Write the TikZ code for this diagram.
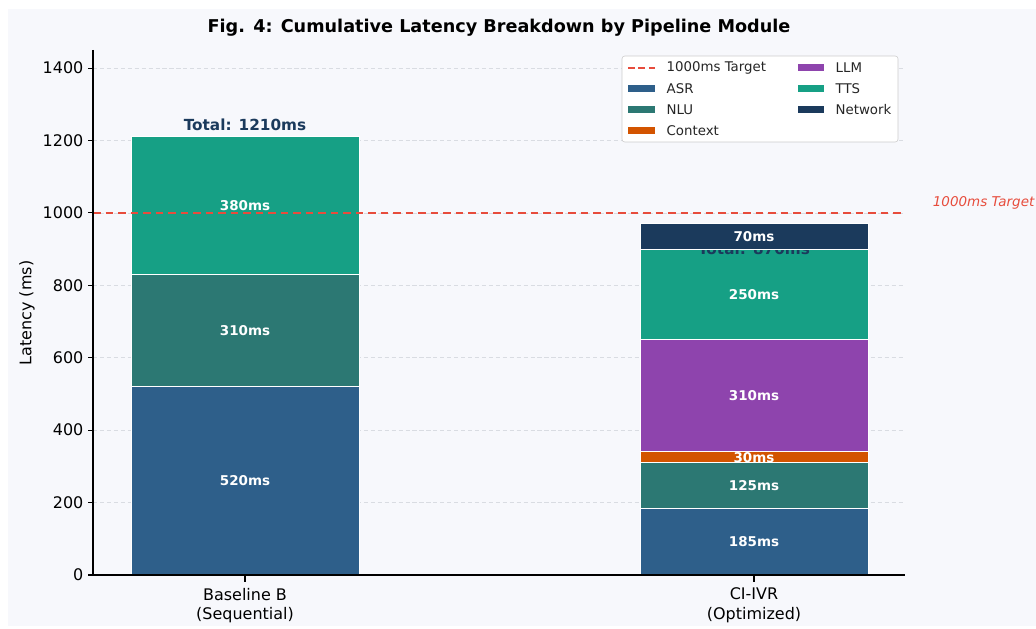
\documentclass[tikz,border=0pt]{standalone}
\usepackage{fontspec}
\setmainfont{DejaVu Sans}
\usetikzlibrary{positioning}
\definecolor{asrc}{HTML}{2E5F8A}
\definecolor{nluc}{HTML}{2C7873}
\definecolor{ctxc}{HTML}{D35400}
\definecolor{llmc}{HTML}{8E44AD}
\definecolor{ttsc}{HTML}{16A085}
\definecolor{netc}{HTML}{1B3A5C}
\definecolor{targetc}{HTML}{E74C3C}
\definecolor{panelc}{HTML}{F7F8FC}
\definecolor{gridc}{HTML}{D9DCE2}
\begin{document}
\begin{tikzpicture}[x=0.72pt, y=0.72pt,
                   seg/.style={draw=white, line width=0.6pt},
                   val/.style={text=white, font=\bfseries\fontsize{9.7}{11}\selectfont},
                   ticklbl/.style={font=\fontsize{11.5}{14}\selectfont},
                   legtxt/.style={anchor=west, inner sep=1pt, font=\fontsize{9.6}{11}\selectfont, text=black!85},
                   total/.style={text=netc, font=\bfseries\fontsize{11}{13}\selectfont},
                   target/.style={targetc, line width=1.4pt, dash pattern=on 5.5pt off 3.5pt}]
\useasboundingbox (0,0) rectangle (1036,628);
\fill[panelc] (8,2) rectangle (1036,619);

\node[font=\bfseries\fontsize{12.7}{15}\selectfont] (title) at (499,600)
  {Fig. 4: Cumulative Latency Breakdown by Pipeline Module};
\node[ticklbl, rotate=90] (ylabel) at (27,315) {Latency (ms)};

%% data part: x in px, y in ms
\begin{scope}[shift={(0,53)}, y=0.2607pt]
\foreach \v in {200,400,...,1400}
  \draw[gridc, line width=0.5pt, dash pattern=on 3pt off 2pt] (93,\v) -- (905,\v);

% Baseline B
\fill[asrc, seg] (131,0) rectangle (359,520);
\fill[nluc, seg] (131,520) rectangle (359,830);
\fill[ttsc, seg] (131,830) rectangle (359,1210);
\node[val] (b-asr) at (245,260) {520ms};
\node[val] (b-nlu) at (245,675) {310ms};
\node[val] (b-tts) at (245,1020) {380ms};
\node[total] (b-total) at (245,1243) {Total: 1210ms};

% CI-IVR
\fill[asrc, seg] (640,0) rectangle (868,185);
\fill[nluc, seg] (640,185) rectangle (868,310);
\fill[ctxc, seg] (640,310) rectangle (868,340);
\fill[llmc, seg] (640,340) rectangle (868,650);
\fill[ttsc, seg] (640,650) rectangle (868,900);
\node[total, anchor=base] (c-total) at (754,886) {Total: 870ms};
\fill[netc, seg] (640,900) rectangle (868,970);
\node[val] (c-asr) at (754,92.5) {185ms};
\node[val] (c-nlu) at (754,247.5) {125ms};
\node[val] (c-ctx) at (754,325) {30ms};
\node[val] (c-llm) at (754,495) {310ms};
\node[val] (c-tts) at (754,775) {250ms};
\node[val] (c-net) at (754,935) {70ms};

% target line
\coordinate (t-l) at (93,1000);
\coordinate (t-r) at (905,1000);
\draw[target] (t-l) -- (t-r);
\node[anchor=west, text=targetc, font=\itshape\fontsize{9.7}{11}\selectfont] (t-lbl)
  at (928,1028) {1000ms Target};

% axes
\coordinate (o) at (93,0);
\coordinate (ytop) at (93,1450);
\coordinate (xend) at (905,0);
\draw[line width=0.8pt] (ytop) -- (o) -- (xend);
\foreach \v in {0,200,...,1400} {
  \draw[line width=0.8pt] (88,\v) -- (93,\v);
  \node[ticklbl, anchor=east, inner sep=1pt] (yt\v) at (85,\v) {\v};
}
\draw[line width=0.8pt] (245,0) -- (245,-19);
\draw[line width=0.8pt] (754,0) -- (754,-19);
\end{scope}

\node[ticklbl, align=center, anchor=north] (x-base) at (245,45) {Baseline B\\(Sequential)};
\node[ticklbl, align=center, anchor=north] (x-ci) at (754,45) {CI-IVR\\(Optimized)};

%% legend
\draw[draw=black!20, fill=white, rounded corners=2pt] (622,486) rectangle (898,572);
\draw[target, line width=1.1pt, dash pattern=on 5pt off 2.5pt] (628,560) -- (655,560);
\fill[asrc] (628,535.5) rectangle (655,542.5);
\fill[nluc] (628,514.5) rectangle (655,521.5);
\fill[ctxc] (628,493.5) rectangle (655,500.5);
\fill[llmc] (798,556.5) rectangle (824,563.5);
\fill[ttsc] (798,535.5) rectangle (824,542.5);
\fill[netc] (798,514.5) rectangle (824,521.5);
\node[legtxt] (l-target) at (665,560) {1000ms Target};
\node[legtxt] (l-asr) at (665,539) {ASR};
\node[legtxt] (l-nlu) at (665,518) {NLU};
\node[legtxt] (l-ctx) at (665,497) {Context};
\node[legtxt] (l-llm) at (834,560) {LLM};
\node[legtxt] (l-tts) at (834,539) {TTS};
\node[legtxt] (l-net) at (834,518) {Network};
\end{tikzpicture}
\end{document}
